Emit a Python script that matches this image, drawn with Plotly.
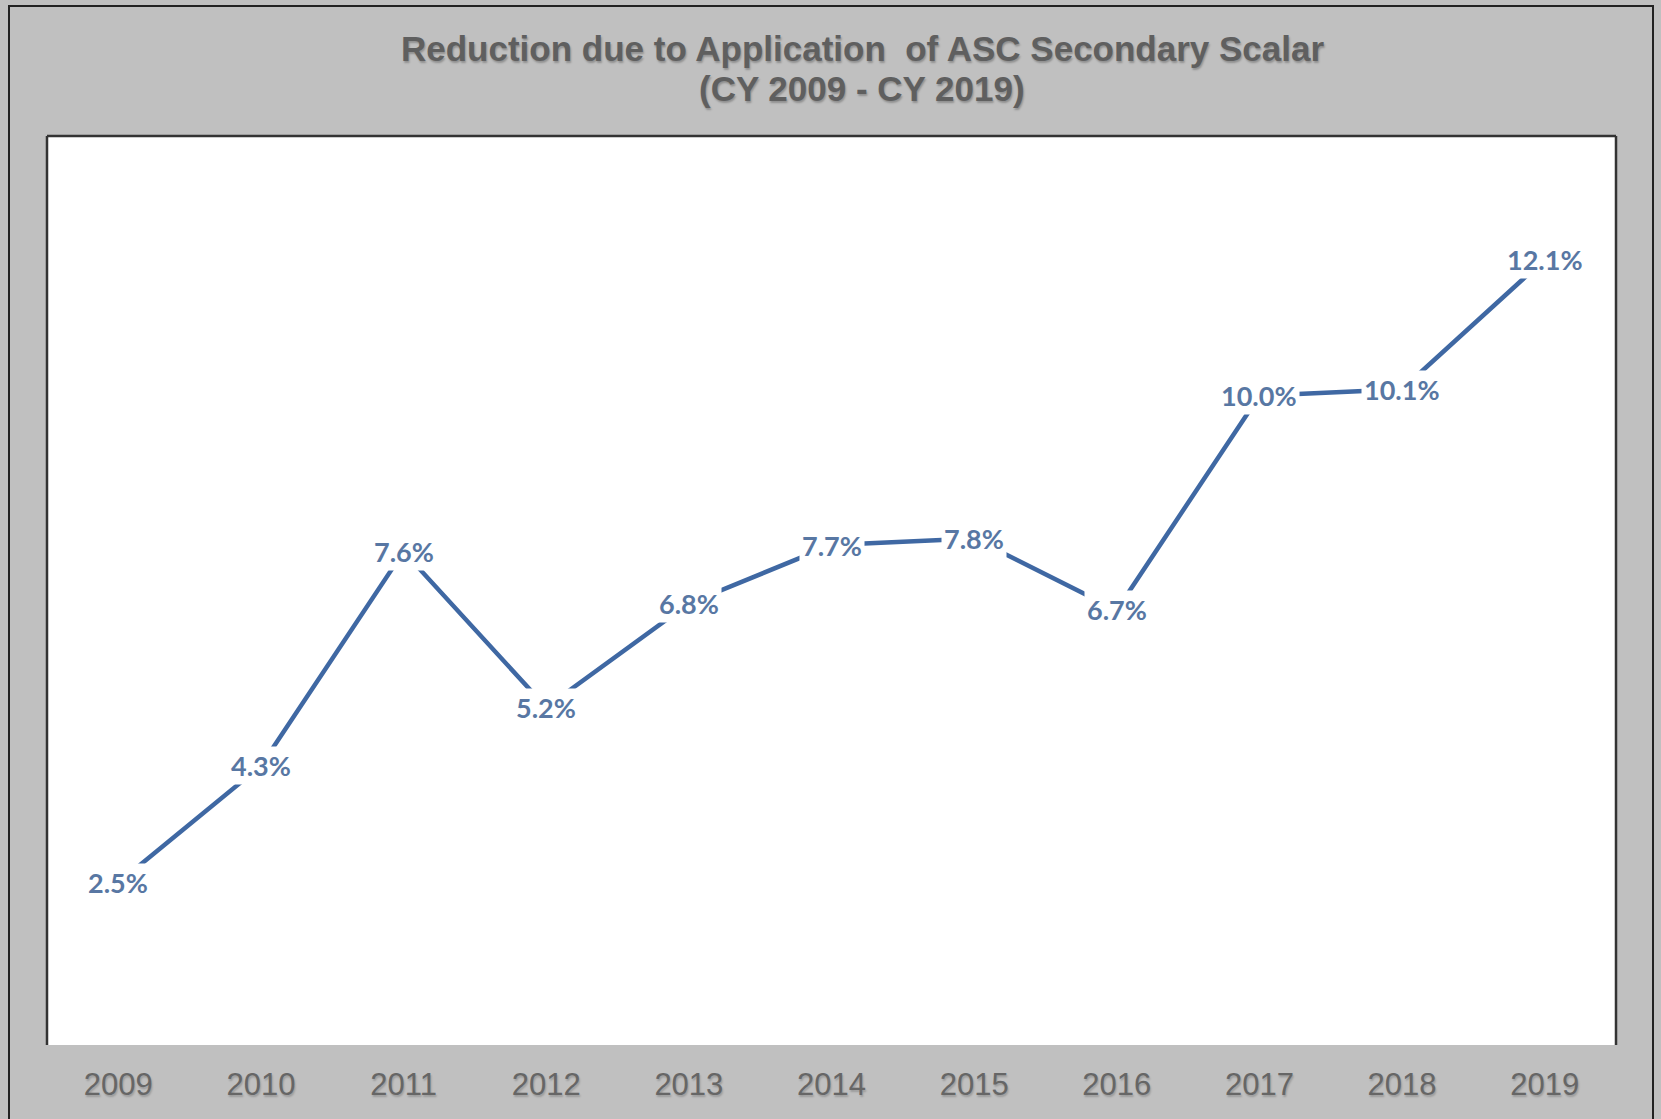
import plotly.graph_objects as go

years = ["2009", "2010", "2011", "2012", "2013", "2014", "2015", "2016", "2017", "2018", "2019"]
reduction_pct = [2.5, 4.3, 7.6, 5.2, 6.8, 7.7, 7.8, 6.7, 10.0, 10.1, 12.1]
title_line1 = "Reduction due to Application  of ASC Secondary Scalar"
title_line2 = "(CY 2009 - CY 2019)"

W, H = 1661, 1119
L, R, T, B = 47, 1616, 136, 1045
pw, ph = R - L, B - T

def px(x):
    return (x - L) / pw

def py(y):
    return (B - y) / ph

line_color = "#3F68A3"
label_color = "#5877A3"
gray_text = "#5F5F5F"

fig = go.Figure()
fig.add_trace(go.Scatter(
    x=years, y=reduction_pct, mode="lines",
    line=dict(color=line_color, width=4.5),
    hoverinfo="skip", showlegend=False,
))

annotations = []
for i, v in enumerate(reduction_pct):
    annotations.append(dict(
        x=i, y=v, xref="x", yref="y", text=f"{v:.1f}%", showarrow=False,
        font=dict(family="Lato, Open Sans, sans-serif", size=27, color=label_color, weight="bold"),
        bgcolor="white", borderpad=2, xanchor="center", yanchor="middle",
    ))

title_font = dict(family="Liberation Sans, Arial, sans-serif", size=35, color=gray_text,
                  weight="bold", shadow="1px 2px 2px rgba(0,0,0,0.25)")
annotations.append(dict(x=px(862), y=py(48), xref="paper", yref="paper", text=title_line1,
                        showarrow=False, font=title_font, xanchor="center", yanchor="middle"))
annotations.append(dict(x=px(862), y=py(88), xref="paper", yref="paper", text=title_line2,
                        showarrow=False, font=title_font, xanchor="center", yanchor="middle"))

shapes = [
    dict(type="rect", xref="paper", yref="paper", x0=px(9), x1=px(1653), y0=py(1160), y1=py(6),
         line=dict(color="#222222", width=2), fillcolor="rgba(0,0,0,0)", layer="below"),
    dict(type="line", xref="paper", yref="paper", x0=0, x1=0, y0=0, y1=1,
         line=dict(color="#333333", width=2.5)),
    dict(type="line", xref="paper", yref="paper", x0=0, x1=1, y0=1, y1=1,
         line=dict(color="#333333", width=2.5)),
    dict(type="line", xref="paper", yref="paper", x0=1, x1=1, y0=0, y1=1,
         line=dict(color="#333333", width=2.5)),
]

fig.update_layout(
    width=W, height=H,
    margin=dict(l=L, r=W - R, t=T, b=H - B, pad=0),
    paper_bgcolor="#C0C0C0",
    plot_bgcolor="white",
    annotations=annotations,
    shapes=shapes,
    showlegend=False,
    xaxis=dict(
        type="category", range=[-0.5, len(years) - 0.5], autorange=False,
        showgrid=False, zeroline=False, showline=False,
        ticks="", ticklabelstandoff=18,
        tickfont=dict(family="Liberation Sans, Arial, sans-serif", size=31, color="#666666",
                      shadow="1px 2px 2px rgba(0,0,0,0.2)"),
    ),
    yaxis=dict(range=[0, 14], autorange=False, visible=False, showgrid=False, zeroline=False),
)

fig.write_html("out.html")
